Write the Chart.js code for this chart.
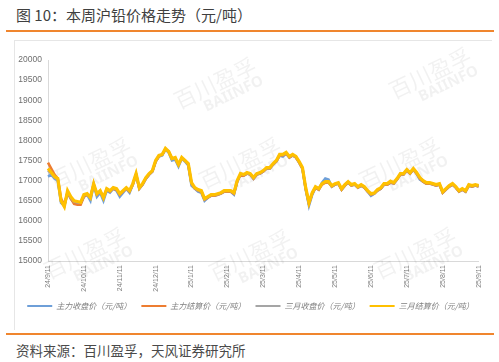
<!DOCTYPE html>
<html>
<head>
<meta charset="utf-8">
<script src="https://cdn.jsdelivr.net/npm/chart.js@4.4.1/dist/chart.umd.min.js"></script>
<style>
  body{margin:0;background:#fff;width:499px;height:362px;position:relative;overflow:hidden;font-family:"Noto Sans CJK SC","Noto Sans",sans-serif;}
  #title{position:absolute;left:16px;top:4px;font-size:15px;color:#3f3f3f;white-space:nowrap;}
  .bar{position:absolute;left:6px;width:488px;height:2px;background:#f0862e;}
  #frame{position:absolute;left:14px;top:40px;width:477px;height:289px;border:1px solid #e6e6e6;border-right:none;border-bottom:none;}
  #wrap{position:absolute;left:15px;top:41px;width:476px;height:288px;}
  #src{position:absolute;left:16px;top:340px;font-size:13.5px;color:#4a4a4a;white-space:nowrap;}
</style>
</head>
<body>
<div id="title">图 10：本周沪铅价格走势（元/吨）</div>
<div class="bar" style="top:30px"></div>
<div id="frame"></div>
<div id="wrap"><canvas id="myChart" width="476" height="288"></canvas></div>
<div class="bar" style="top:333px"></div>
<div id="src">资料来源：百川盈孚，天风证券研究所</div>
<script>
// 月度刻度（每月11个数据点）
let monthTicks = ["24/9/11","24/10/11","24/11/11","24/12/11","25/1/11","25/2/11","25/3/11","25/4/11","25/5/11","25/6/11","25/7/11","25/8/11","25/9/11"];
let pointsPerMonth = 11;

let seriesNames = ["主力收盘价（元/吨）","主力结算价（元/吨）","三月收盘价（元/吨）","三月结算价（元/吨）"];
let colors = ["#6e9fd8","#ed7d31","#a5a5a5","#ffc000"];

// 主力收盘价
let mainClose = [
  17100,17150,17050,17000,16450,16380,16700,16550,16450,16450,16430,
  16600,16650,16500,16900,16600,16700,16500,16750,16700,16800,16750,
  16600,16700,16800,16700,16900,17150,16800,16900,17050,17150,17225,
  17475,17600,17625,17775,17700,17500,17525,17350,17550,17475,17375,
  16875,16800,16725,16700,16500,16575,16625,16625,16650,16675,16725,
  16725,16725,16650,16975,17150,17125,17175,17150,17050,17150,17175,
  17225,17300,17300,17400,17475,17625,17600,17675,17575,17625,17575,
  17450,17300,16775,16375,16650,16825,16775,16950,17050,17025,16850,
  16900,16925,16775,16875,16950,16875,16900,16825,16875,16825,16725,
  16625,16675,16750,16800,16900,16900,16950,16925,17025,17150,17150,
  17250,17175,17275,17175,17025,16975,16925,16925,16900,16875,16900,
  16700,16775,16850,16900,16825,16725,16775,16725,16875,16850,16875,
  16850];
// 主力结算价
let mainSettle = [
  17450,17300,17150,17050,16550,16400,16700,16550,16420,16400,16400,
  16600,16650,16600,16900,16650,16725,16600,16775,16725,16800,16775,
  16650,16725,16800,16725,16900,17150,16800,16900,17050,17150,17225,
  17475,17600,17650,17775,17725,17550,17550,17400,17550,17500,17400,
  16925,16800,16750,16725,16525,16575,16625,16625,16650,16675,16725,
  16725,16725,16675,16975,17150,17125,17175,17150,17050,17150,17175,
  17225,17300,17300,17400,17475,17625,17625,17675,17575,17625,17575,
  17450,17300,16800,16425,16675,16825,16775,16900,16950,16950,16850,
  16900,16925,16775,16875,16950,16875,16900,16825,16875,16825,16725,
  16650,16675,16750,16800,16900,16900,16950,16925,17025,17150,17150,
  17250,17175,17275,17175,17050,16975,16925,16925,16900,16875,16900,
  16700,16775,16850,16900,16825,16725,16775,16725,16875,16850,16875,
  16850];
// 三月收盘价
let thirdClose = [
  17250,17175,17075,17025,16480,16360,16725,16575,16480,16460,16450,
  16625,16660,16560,16910,16660,16740,16560,16790,16740,16810,16790,
  16660,16740,16810,16740,16910,17160,16810,16910,17060,17160,17240,
  17490,17610,17640,17790,17710,17540,17560,17390,17560,17490,17410,
  16925,16810,16760,16740,16540,16590,16640,16640,16660,16690,16740,
  16740,16740,16690,16990,17160,17140,17190,17160,17060,17160,17190,
  17240,17310,17310,17410,17490,17640,17640,17690,17590,17640,17590,
  17460,17310,16810,16425,16690,16840,16790,16925,16975,16960,16860,
  16910,16940,16790,16890,16960,16890,16910,16840,16890,16840,16740,
  16660,16685,16765,16810,16915,16915,16975,16940,17040,17165,17165,
  17265,17190,17290,17190,17065,16990,16940,16940,16915,16890,16915,
  16715,16790,16865,16915,16840,16740,16790,16740,16890,16865,16890,
  16865];
// 三月结算价
let thirdSettle = [
  17300,17200,17100,17050,16500,16350,16750,16600,16500,16480,16460,
  16650,16675,16575,16925,16675,16750,16575,16800,16750,16825,16800,
  16675,16750,16825,16750,16925,17175,16825,16925,17075,17175,17250,
  17500,17625,17650,17800,17725,17550,17575,17400,17575,17500,17425,
  16950,16825,16775,16750,16550,16600,16650,16650,16675,16700,16750,
  16750,16750,16700,17000,17175,17150,17200,17175,17075,17175,17200,
  17250,17325,17325,17425,17500,17650,17650,17700,17600,17650,17600,
  17475,17325,16825,16450,16700,16850,16800,16925,16975,16975,16875,
  16925,16950,16800,16900,16975,16900,16925,16850,16900,16850,16750,
  16675,16690,16775,16820,16925,16925,16985,16950,17050,17175,17175,
  17275,17200,17300,17200,17075,17000,16950,16950,16925,16900,16925,
  16725,16800,16875,16925,16850,16750,16800,16750,16900,16875,16900,
  16875];

let yMin = 15000, yMax = 20000, yStep = 500;

// 横轴分类：每月首点放刻度文字，其余留空
let labels = [];
monthTicks.forEach((m, i) => {
  labels.push(m);
  if (i < monthTicks.length - 1) {
    for (let k = 1; k < pointsPerMonth; k++) labels.push("");
  }
});

// 水印
const watermark = {
  id: "watermark",
  beforeDatasetsDraw(chart) {
    const ctx = chart.ctx;
    const spots = [[200,42],[415,32],[75,122],[225,122],[385,122],[70,212],[235,214],[400,212]];
    ctx.save();
    ctx.fillStyle = "rgba(0,0,0,0.055)";
    ctx.textAlign = "center";
    spots.forEach(([x, y]) => {
      ctx.save();
      ctx.translate(x, y);
      ctx.rotate(-0.45);
      ctx.font = "22px 'Noto Sans CJK SC'";
      ctx.fillText("百川盈孚", 0, 0);
      ctx.font = "bold 15px 'Noto Sans'";
      ctx.fillText("BAIINFO", 12, 18);
      ctx.restore();
    });
    ctx.restore();
  }
};

let allSeries = [mainClose, mainSettle, thirdClose, thirdSettle];
let widths = [2.6, 2.6, 2.6, 3.2];

const config = {
  type: "line",
  data: {
    labels: labels,
    datasets: allSeries.map((d, i) => ({
      label: seriesNames[i],
      data: d,
      borderColor: colors[i],
      backgroundColor: colors[i],
      borderWidth: widths[i],
      pointRadius: 0,
      tension: 0,
      order: 4 - i
    }))
  },
  options: {
    responsive: false,
    animation: false,
    layout: { autoPadding: false, padding: { top: 19, right: 5, left: 0, bottom: 9 } },
    plugins: {
      tooltip: { enabled: false },
      legend: {
        position: "bottom",
        labels: {
          boxWidth: 25,
          boxHeight: 2,
          padding: 10,
          color: "#7f7f7f",
          font: { family: "'Noto Sans CJK SC'", size: 8, style: "italic" },
          sort: (a, b) => a.datasetIndex - b.datasetIndex,
          generateLabels: (chart) => chart.data.datasets.map((ds, i) => ({
            text: ds.label, fillStyle: ds.borderColor, strokeStyle: ds.borderColor,
            lineWidth: 0, datasetIndex: i, hidden: false, fontColor: "#7f7f7f"
          }))
        }
      }
    },
    scales: {
      x: {
        grid: { display: false, drawTicks: false },
        border: { display: true, color: "#d9d9d9", width: 1 },
        ticks: {
          autoSkip: false, minRotation: 90, maxRotation: 90, padding: 4,
          color: "#7f7f7f", font: { family: "'Liberation Sans'", size: 7 },
          callback: (v, i) => labels[i]
        },
        afterFit: (s) => { s.height = 31; }
      },
      y: {
        min: yMin, max: yMax,
        grid: { display: false, drawTicks: false },
        border: { display: true, color: "#d9d9d9", width: 1 },
        ticks: {
          stepSize: yStep, padding: 6,
          color: "#6f6f6f", font: { family: "'Liberation Sans'", size: 8.5 },
          callback: (v) => String(v)
        },
        afterFit: (s) => { s.width = 33; }
      }
    }
  },
  plugins: [watermark]
};

let myChart = new Chart(document.getElementById("myChart"), config);
</script>
</body>
</html>
